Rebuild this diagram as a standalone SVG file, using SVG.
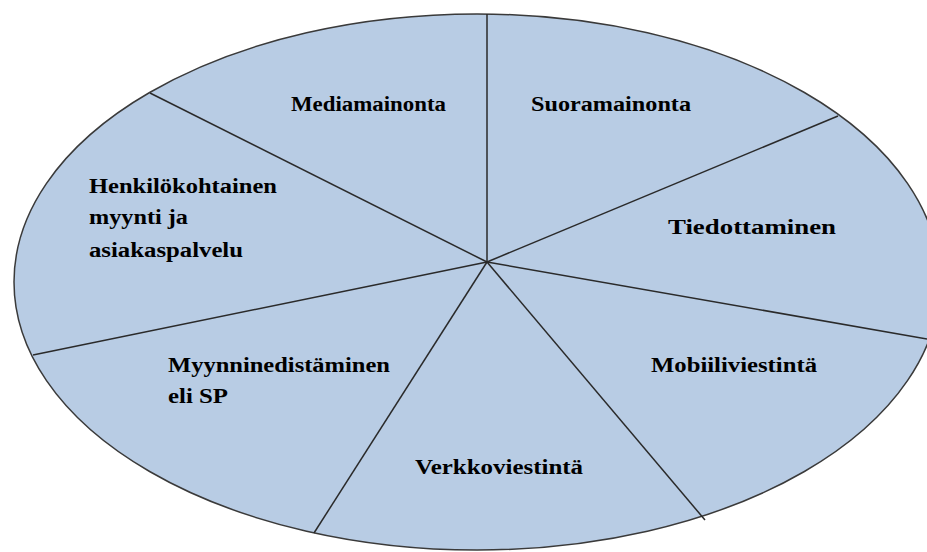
<svg xmlns="http://www.w3.org/2000/svg" width="927" height="552" viewBox="0 0 927 552">
<style>
.lbl{font-family:"Liberation Serif","Times New Roman",serif;font-weight:bold;font-size:20px;fill:#000}
.sp{stroke:#2a2a2a;stroke-width:1.5;fill:none}
</style>
<rect width="927" height="552" fill="#fff"/>
<g id="ellipse">
<ellipse cx="477" cy="282" rx="463" ry="268" fill="#b8cce4" stroke="#3a3a3a" stroke-width="1.5"/>
</g>
<g id="connectors">
<line class="sp" x1="487" y1="262" x2="487" y2="14"/>
<line class="sp" x1="487" y1="262" x2="150" y2="93"/>
<line class="sp" x1="487" y1="262" x2="33" y2="355"/>
<line class="sp" x1="487" y1="262" x2="314" y2="533"/>
<line class="sp" x1="487" y1="262" x2="705" y2="520"/>
<line class="sp" x1="487" y1="262" x2="927" y2="339"/>
<line class="sp" x1="487" y1="262" x2="838" y2="116"/>
</g>
<g id="mediamainonta"><text class="lbl" x="291" y="111" textLength="155" lengthAdjust="spacingAndGlyphs">Mediamainonta</text></g>
<g id="suoramainonta"><text class="lbl" x="531" y="111" textLength="160" lengthAdjust="spacingAndGlyphs">Suoramainonta</text></g>
<g id="henkilokohtainen"><text class="lbl" x="89" y="193" textLength="188" lengthAdjust="spacingAndGlyphs">Henkilökohtainen</text>
<text class="lbl" x="89" y="224" textLength="99" lengthAdjust="spacingAndGlyphs">myynti ja</text>
<text class="lbl" x="89" y="257" textLength="154" lengthAdjust="spacingAndGlyphs">asiakaspalvelu</text></g>
<g id="tiedottaminen"><text class="lbl" x="668" y="234" textLength="168" lengthAdjust="spacingAndGlyphs">Tiedottaminen</text></g>
<g id="mobiiliviestinta"><text class="lbl" x="651" y="372" textLength="166" lengthAdjust="spacingAndGlyphs">Mobiiliviestintä</text></g>
<g id="myynninedistaminen"><text class="lbl" x="168" y="372" textLength="222" lengthAdjust="spacingAndGlyphs">Myynninedistäminen</text>
<text class="lbl" x="168" y="403" textLength="60" lengthAdjust="spacingAndGlyphs">eli SP</text></g>
<g id="verkkoviestinta"><text class="lbl" x="415" y="474" textLength="168" lengthAdjust="spacingAndGlyphs">Verkkoviestintä</text></g>
</svg>
